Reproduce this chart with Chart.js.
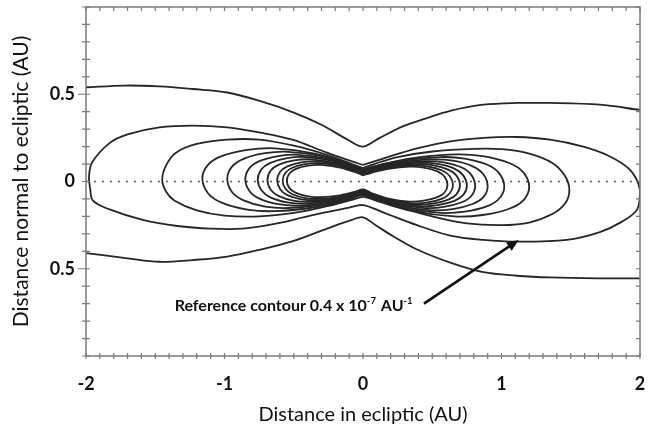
<!DOCTYPE html>
<html><head><meta charset="utf-8">
<script src="https://cdn.jsdelivr.net/npm/chart.js@4.4.0/dist/chart.umd.min.js"></script>
<style>html,body{margin:0;padding:0;background:#fff}canvas{display:block}</style>
</head><body>
<canvas id="c" width="651" height="438"></canvas>
<script>
// ---- axis ticks / labels ----
const xTickValues = [-2, -1, 0, 1, 2];
const xTickLabels = ['-2', '-1', '0', '1', '2'];
const yTickValues = [-0.5, 0, 0.5];
const yTickLabels = ['0.5', '0', '0.5'];

// ---- contours: [x (AU), y (AU)] ----
const contour1Upper = [[-2,0.54],[-1.72,0.55],[-1.47,0.545],[-1.23,0.53],[-0.98,0.51],[-0.74,0.46],[-0.5,0.395],[-0.3,0.325],[-0.1,0.235],[0,0.2],[0.12,0.25],[0.3,0.32],[0.45,0.36],[0.63,0.405],[0.87,0.44],[1.11,0.45],[1.35,0.45],[1.71,0.44],[2,0.41]];
const contour1Lower = [[-2,-0.41],[-1.7,-0.44],[-1.47,-0.46],[-1.23,-0.45],[-0.98,-0.43],[-0.74,-0.39],[-0.5,-0.34],[-0.26,-0.27],[-0.08,-0.22],[0,-0.205],[0.1,-0.255],[0.22,-0.315],[0.39,-0.39],[0.63,-0.465],[0.87,-0.52],[1.11,-0.54],[1.35,-0.55],[1.7,-0.555],[2,-0.555]];
const contour2 = [[0,0.095],[0.14,0.13],[0.39,0.19],[0.63,0.23],[0.87,0.25],[1.11,0.255],[1.35,0.24],[1.59,0.2],[1.78,0.145],[1.93,0.065],[2.0,-0.05],
 [1.98,-0.16],[1.87,-0.23],[1.71,-0.29],[1.47,-0.335],[1.11,-0.345],[0.87,-0.335],[0.63,-0.31],[0.39,-0.25],[0.14,-0.175],[0,-0.135],
 [-0.1,-0.15],[-0.38,-0.195],[-0.62,-0.24],[-0.87,-0.27],[-1.1,-0.27],[-1.34,-0.255],[-1.59,-0.22],[-1.83,-0.16],[-1.95,-0.11],[-1.97,-0.04],[-1.978,0.03],
 [-1.955,0.11],[-1.83,0.22],[-1.7,0.27],[-1.47,0.31],[-1.23,0.32],[-0.98,0.31],[-0.74,0.28],[-0.51,0.24],[-0.26,0.165],[-0.08,0.115],[0,0.095]];
const contour3 = [[0,0.077],[0.08,0.1],[0.25,0.14],[0.5,0.172],[0.8,0.187],[1.0,0.185],[1.2,0.16],[1.37,0.105],[1.46,0.03],[1.49,-0.05],
 [1.46,-0.125],[1.37,-0.185],[1.2,-0.235],[1.0,-0.25],[0.75,-0.24],[0.5,-0.2],[0.25,-0.145],[0.08,-0.105],[0,-0.088],
 [-0.08,-0.105],[-0.25,-0.14],[-0.5,-0.18],[-0.75,-0.2],[-1.0,-0.195],[-1.2,-0.165],[-1.36,-0.11],[-1.42,-0.06],[-1.45,0.01],
 [-1.42,0.095],[-1.35,0.165],[-1.2,0.215],[-0.98,0.24],[-0.75,0.24],[-0.5,0.205],[-0.25,0.15],[-0.08,0.1],[0,0.077]];
const contour4 = [[0,0.07],[0.12,0.0955],[0.36,0.134],[0.66,0.155],[0.864,0.146],[1.056,0.106],[1.158,0.052],[1.2,-0.032],
 [1.158,-0.108],[1.056,-0.156],[0.864,-0.192],[0.66,-0.2],[0.36,-0.17],[0.12,-0.116],[0,-0.08],
 [-0.116,-0.107],[-0.348,-0.1475],[-0.638,-0.17],[-0.835,-0.161],[-1.021,-0.121],[-1.119,-0.067],[-1.16,0.018],
 [-1.119,0.095],[-1.021,0.145],[-0.835,0.181],[-0.638,0.19],[-0.348,0.16],[-0.116,0.106],[0,0.07]];
const contour5 = [[0,0.065],[0.102,0.0875],[0.306,0.121],[0.561,0.14],[0.734,0.1315],[0.898,0.096],[0.984,0.0465],[1.02,-0.03],
 [0.984,-0.0975],[0.898,-0.141],[0.734,-0.1725],[0.561,-0.18],[0.306,-0.154],[0.102,-0.1065],[0,-0.075],
 [-0.098,-0.098],[-0.294,-0.133],[-0.539,-0.152],[-0.706,-0.144],[-0.862,-0.108],[-0.946,-0.06],[-0.98,0.016],
 [-0.946,0.085],[-0.862,0.13],[-0.706,0.162],[-0.539,0.17],[-0.294,0.144],[-0.098,0.0965],[0,0.065]];
const contour6 = [[0,0.06],[0.09,0.08],[0.27,0.11],[0.495,0.127],[0.648,0.119],[0.792,0.087],[0.869,0.042],[0.9,-0.028],
 [0.869,-0.09],[0.792,-0.129],[0.648,-0.158],[0.495,-0.165],[0.27,-0.141],[0.09,-0.0985],[0,-0.07],
 [-0.085,-0.09],[-0.255,-0.121],[-0.468,-0.138],[-0.612,-0.13],[-0.748,-0.098],[-0.82,-0.054],[-0.85,0.014],
 [-0.82,0.0766],[-0.748,0.117],[-0.612,0.146],[-0.468,0.153],[-0.255,0.13],[-0.085,0.088],[0,0.06]];
const contour7 = [[0,0.055],[0.081,0.0735],[0.243,0.1015],[0.446,0.117],[0.583,0.11],[0.713,0.08],[0.782,0.038],[0.81,-0.026],
 [0.782,-0.083],[0.713,-0.119],[0.583,-0.146],[0.446,-0.152],[0.243,-0.13],[0.081,-0.091],[0,-0.065],
 [-0.076,-0.0836],[-0.228,-0.1115],[-0.418,-0.127],[-0.547,-0.12],[-0.669,-0.091],[-0.733,-0.0505],[-0.76,0.012],
 [-0.733,0.07],[-0.669,0.107],[-0.547,0.134],[-0.418,0.14],[-0.228,0.119],[-0.076,0.0805],[0,0.055]];
const contour8 = [[0,0.05],[0.075,0.067],[0.225,0.0935],[0.413,0.108],[0.54,0.101],[0.66,0.074],[0.724,0.035],[0.75,-0.024],
 [0.724,-0.077],[0.66,-0.111],[0.54,-0.136],[0.413,-0.142],[0.225,-0.1215],[0.075,-0.085],[0,-0.06],
 [-0.069,-0.077],[-0.207,-0.103],[-0.38,-0.117],[-0.497,-0.111],[-0.607,-0.084],[-0.666,-0.047],[-0.69,0.01],
 [-0.666,0.063],[-0.607,0.097],[-0.497,0.121],[-0.38,0.127],[-0.207,0.108],[-0.069,0.073],[0,0.05]];
const contour9 = [[0,0.045],[0.07,0.0615],[0.21,0.086],[0.385,0.1],[0.504,0.094],[0.616,0.068],[0.676,0.033],[0.7,-0.022],
 [0.676,-0.072],[0.616,-0.104],[0.504,-0.127],[0.385,-0.133],[0.21,-0.1135],[0.07,-0.078],[0,-0.055],
 [-0.062,-0.071],[-0.186,-0.095],[-0.341,-0.108],[-0.446,-0.102],[-0.546,-0.078],[-0.598,-0.044],[-0.62,0.008],
 [-0.598,0.056],[-0.546,0.087],[-0.446,0.11],[-0.341,0.115],[-0.186,0.0975],[-0.062,0.066],[0,0.045]];
const contour10 = [[0,0.04],[0.065,0.056],[0.195,0.079],[0.358,0.092],[0.468,0.086],[0.572,0.063],[0.627,0.03],[0.65,-0.02],
 [0.627,-0.067],[0.572,-0.098],[0.468,-0.12],[0.358,-0.125],[0.195,-0.106],[0.065,-0.0725],[0,-0.05],
 [-0.058,-0.065],[-0.174,-0.0875],[-0.319,-0.1],[-0.418,-0.095],[-0.51,-0.073],[-0.56,-0.042],[-0.58,0.005],
 [-0.56,0.05],[-0.51,0.079],[-0.418,0.1],[-0.319,0.105],[-0.174,0.089],[-0.058,0.06],[0,0.04]];
const contour11 = [[0,0.035],[0.061,0.05],[0.183,0.0725],[0.336,0.085],[0.439,0.08],[0.537,0.058],[0.589,0.027],[0.61,-0.02],
 [0.589,-0.063],[0.537,-0.09],[0.439,-0.11],[0.336,-0.115],[0.183,-0.0975],[0.061,-0.066],[0,-0.045],
 [-0.055,-0.0585],[-0.165,-0.079],[-0.303,-0.09],[-0.396,-0.085],[-0.484,-0.065],[-0.531,-0.038],[-0.55,0.005],
 [-0.531,0.046],[-0.484,0.072],[-0.396,0.091],[-0.303,0.095],[-0.165,0.08],[-0.055,0.053],[0,0.035]];

// ecliptic (dotted) line
const eclipticX = [-2, 2];
const eclipticY = [0, 0];

// annotation
const noteParts = ['Reference contour 0.4 x 10', '-7', ' AU', '-1'];
const notePos = [-1.36, -0.708];
const arrowFrom = [0.44, -0.70];
const arrowTo = [1.125, -0.335];

const contours = [contour1Upper, contour1Lower, contour2, contour3, contour4, contour5, contour6, contour7, contour8, contour9, contour10, contour11];

const datasets = contours.map(c => ({
  data: c.map(p => ({x: p[0], y: p[1]})),
  showLine: true, pointRadius: 0, borderColor: '#262626', borderWidth: 1.8,
  tension: 0.35, fill: false
}));
datasets.push({
  data: eclipticX.map((v, i) => ({x: v, y: eclipticY[i]})),
  showLine: true, pointRadius: 0, borderColor: '#555', borderWidth: 1.6,
  borderDash: [2, 6], tension: 0, fill: false
});

const frameTicks = {
  id: 'frameTicks',
  afterDatasetsDraw(chart) {
    const {ctx, chartArea: a, scales: {x, y}} = chart;
    ctx.save();
    ctx.strokeStyle = '#7a7a7a';
    ctx.lineWidth = 1.5;
    ctx.strokeRect(a.left, a.top, a.right - a.left, a.bottom - a.top);
    ctx.lineWidth = 1.2;
    ctx.beginPath();
    for (let i = 0; i <= 40; i++) {
      const px = x.getPixelForValue(-2 + i * 0.1);
      ctx.moveTo(px, a.bottom - 3); ctx.lineTo(px, a.bottom + 3);
      ctx.moveTo(px, a.top); ctx.lineTo(px, a.top + 4);
    }
    for (let i = 0; i <= 20; i++) {
      const py = y.getPixelForValue(-1 + i * 0.1);
      const major = (i === 5 || i === 15);
      ctx.moveTo(a.left - (major ? 8 : 4), py); ctx.lineTo(a.left + 4, py);
      ctx.moveTo(a.right - 4, py); ctx.lineTo(a.right, py);
    }
    ctx.stroke();

    // annotation text
    const tx = x.getPixelForValue(notePos[0]);
    const ty = y.getPixelForValue(notePos[1]);
    ctx.fillStyle = '#111';
    ctx.textBaseline = 'alphabetic';
    ctx.textAlign = 'left';
    let cx = tx;
    noteParts.forEach((t, i) => {
      const sup = i % 2 === 1;
      ctx.font = sup ? 'bold 9.5px Lato' : 'bold 16px Lato';
      ctx.fillText(t, cx, sup ? ty - 1 : ty + 6);
      cx += ctx.measureText(t).width + (sup ? 1 : 0);
    });

    // arrow
    const x1 = x.getPixelForValue(arrowFrom[0]), y1 = y.getPixelForValue(arrowFrom[1]);
    const x2 = x.getPixelForValue(arrowTo[0]), y2 = y.getPixelForValue(arrowTo[1]);
    const ang = Math.atan2(y2 - y1, x2 - x1);
    ctx.strokeStyle = '#111';
    ctx.lineWidth = 2.6;
    ctx.beginPath();
    ctx.moveTo(x1, y1);
    ctx.lineTo(x2 - 8 * Math.cos(ang), y2 - 8 * Math.sin(ang));
    ctx.stroke();
    ctx.fillStyle = '#111';
    ctx.beginPath();
    ctx.moveTo(x2, y2);
    ctx.lineTo(x2 - 12 * Math.cos(ang) + 5 * Math.sin(ang), y2 - 12 * Math.sin(ang) - 5 * Math.cos(ang));
    ctx.lineTo(x2 - 12 * Math.cos(ang) - 5 * Math.sin(ang), y2 - 12 * Math.sin(ang) + 5 * Math.cos(ang));
    ctx.closePath();
    ctx.fill();
    ctx.restore();
  }
};

new Chart(document.getElementById('c'), {
  type: 'scatter',
  data: {datasets},
  plugins: [frameTicks],
  options: {
    responsive: false,
    animation: false,
    layout: {padding: {top: 7, right: 11, left: 0, bottom: 0}},
    plugins: {legend: {display: false}, tooltip: {enabled: false}},
    scales: {
      x: {
        type: 'linear', min: -2, max: 2, position: 'bottom',
        afterBuildTicks: s => { s.ticks = xTickValues.map(v => ({value: v})); },
        afterFit: s => { s.height = 82; s.paddingLeft = 0; s.paddingRight = 0; },
        grid: {drawOnChartArea: false, drawTicks: false},
        border: {display: false},
        ticks: {
          autoSkip: false, maxRotation: 0, padding: 17, color: '#111',
          font: {family: 'Lato', size: 18, weight: 'bold'},
          callback: v => { const i = xTickValues.indexOf(v); return i >= 0 ? xTickLabels[i] : ''; }
        },
        title: {display: true, text: 'Distance in ecliptic (AU)', color: '#111',
          font: {family: 'Lato', size: 20}, padding: {top: 0, bottom: 11}}
      },
      y: {
        type: 'linear', min: -1, max: 1, position: 'left',
        afterBuildTicks: s => { s.ticks = yTickValues.map(v => ({value: v})); },
        afterFit: s => { s.width = 86; s.paddingTop = 0; s.paddingBottom = 0; },
        grid: {drawOnChartArea: false, drawTicks: false},
        border: {display: false},
        ticks: {
          autoSkip: false, padding: 11, color: '#111',
          font: {family: 'Lato', size: 18, weight: 'bold'},
          callback: v => { const i = yTickValues.indexOf(v); return i >= 0 ? yTickLabels[i] : ''; }
        },
        title: {display: true, text: 'Distance normal to ecliptic (AU)', color: '#111',
          font: {family: 'Lato', size: 21}, padding: {top: 9, bottom: 0}}
      }
    }
  }
});
</script></body></html>
